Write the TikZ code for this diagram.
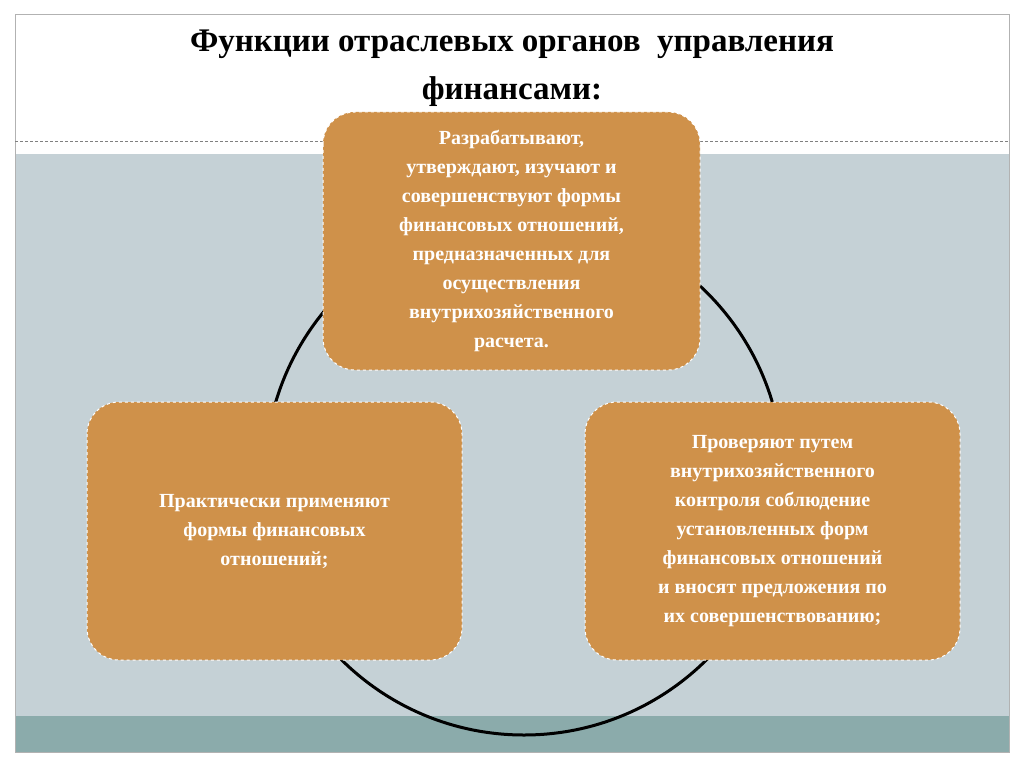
\documentclass[tikz,border=0pt]{standalone}
\usepackage{fontspec}
\setmainfont{Liberation Serif}
\definecolor{bandg}{HTML}{C5D1D6}
\definecolor{teal}{HTML}{8BABAB}
\definecolor{boxc}{HTML}{CF914A}
\begin{document}
\begin{tikzpicture}[x=1pt,y=-1pt,
  fbox/.style={draw=white,dashed,line width=1pt,fill=boxc,rounded corners=32pt,text=white,
    font=\fontsize{20}{29}\selectfont\bfseries,align=center,inner sep=0pt}]
\useasboundingbox (0,0) rectangle (1024,767);
\fill[white] (0,0) rectangle (1024,767);
\fill[bandg] (15,154) rectangle (1009,716);
\fill[teal] (15,716) rectangle (1009,752);
\draw[gray!60,line width=1pt] (15,15) rectangle (1009,752);
\draw[gray,densely dashed,line width=0.6pt] (15,141) -- (1009,141);
\node (t) at (512,68) [font=\fontsize{33}{48}\selectfont\bfseries,align=center] {Функции отраслевых органов\ \ управления\\финансами:};
\draw[line width=3pt] (524,476) circle (259);
\draw[fbox] (323,112) rectangle (700,370);
\node (a) at (511.5,241) [fbox,draw=none,fill=none] {Разрабатывают,\\утверждают, изучают и\\совершенствуют формы\\финансовых отношений,\\предназначенных для\\осуществления\\внутрихозяйственного\\расчета.};
\draw[fbox] (87,402) rectangle (462,660);
\node (b) at (274.5,531) [fbox,draw=none,fill=none] {Практически применяют\\формы финансовых\\отношений;};
\draw[fbox] (585,402) rectangle (960,660);
\node (c) at (772.5,531) [fbox,draw=none,fill=none] {Проверяют путем\\внутрихозяйственного\\контроля соблюдение\\установленных форм\\финансовых отношений\\и вносят предложения по\\их совершенствованию;};
\end{tikzpicture}
\end{document}
